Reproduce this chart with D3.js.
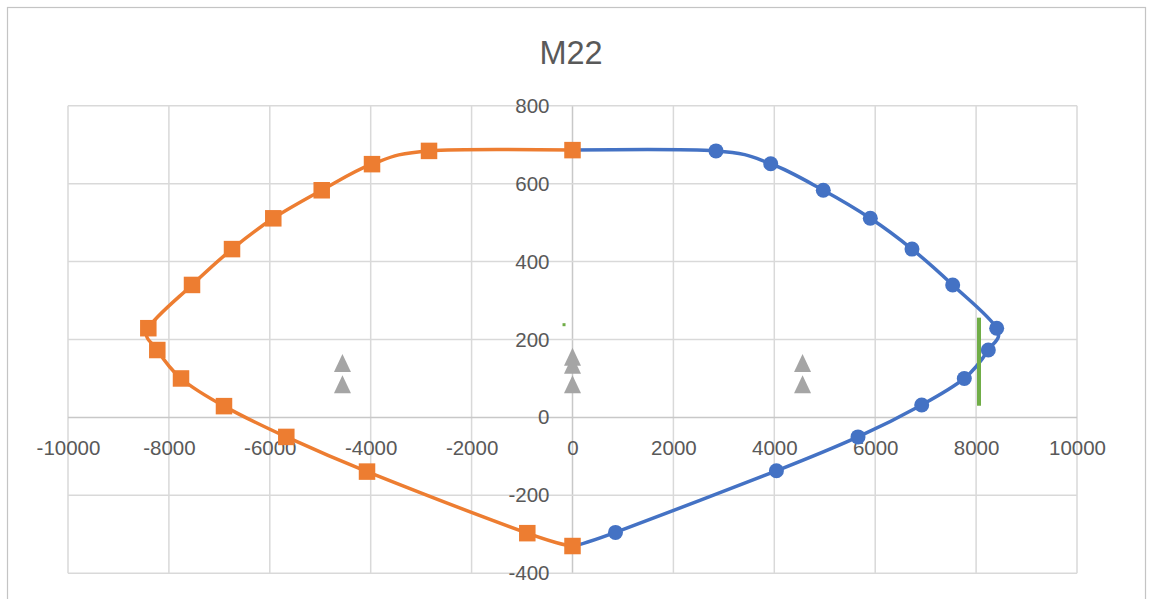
<!DOCTYPE html>
<html>
<head>
<meta charset="utf-8">
<script src="https://cdn.jsdelivr.net/npm/d3@7"></script>
<style>
  html, body { margin: 0; padding: 0; background: #fff; }
  svg { display: block; }
  .tick text { font-family: "Liberation Sans", Arial, sans-serif; fill: #595959; }
</style>
</head>
<body>
<svg id="chart" width="1152" height="599"></svg>
<script>
// Interaction diagram M22: axial load (x) vs moment (y)
const titleText = "M22";

// Positive side of the envelope (circles)
const posX = [0, 2844, 3929, 4971, 5903, 6729, 7536, 8408, 8242, 7766, 6922, 5659, 4042, 852, 0];
const posY = [686, 684, 651, 583, 511, 432, 340, 229, 173, 100, 32, -50, -137, -295, -330];

// Negative side of the envelope (squares)
const negX = [0, -2844, -3974, -4971, -5931, -6749, -7542, -8408, -8230, -7760, -6908, -5673, -4073, -896, 0];
const negY = [686, 684, 650, 583, 511, 432, 340, 229, 173, 100, 29, -50, -139, -297, -330];

// Demand points (triangles)
const demandX = [-4560, -4560, 0, 0, 0, 4560, 4560];
const demandY = [140, 85, 156, 135, 85, 140, 85];

// Vertical limit line
const limitX = [8058, 8058];
const limitY = [256, 30];

// Single reference point
const refX = [-168];
const refY = [238];

const xTicks = [-10000, -8000, -6000, -4000, -2000, 0, 2000, 4000, 6000, 8000, 10000];
const yTicks = [-400, -200, 0, 200, 400, 600, 800];

const svg = d3.select("#chart");
const W = 1152, H = 599;
const plot = { left: 68, right: 1077, top: 105.7, bottom: 573.3 };

const x = d3.scaleLinear().domain([-10000, 10000]).range([plot.left, plot.right]);
const y = d3.scaleLinear().domain([-400, 800]).range([plot.bottom, plot.top]);

// chart frame
svg.append("rect").attr("x", 0).attr("y", 0).attr("width", W).attr("height", H).attr("fill", "#fff");
svg.append("rect").attr("x", 7.5).attr("y", 7.5).attr("width", 1138).attr("height", 640)
  .attr("fill", "none").attr("stroke", "#c4c4c4").attr("stroke-width", 1.2);

// title
svg.append("text").attr("x", 571).attr("y", 63.5).attr("text-anchor", "middle")
  .attr("font-family", "'Liberation Sans', Arial, sans-serif").attr("font-size", 32.5)
  .attr("fill", "#595959").text(titleText);

// gridlines
const grid = svg.append("g");
grid.selectAll("line.v").data(xTicks).join("line")
  .attr("x1", d => x(d)).attr("x2", d => x(d)).attr("y1", plot.top).attr("y2", plot.bottom)
  .attr("stroke", d => d === 0 ? "#c8c8c8" : "#d9d9d9").attr("stroke-width", 1.5);
grid.selectAll("line.h").data(yTicks).join("line")
  .attr("x1", plot.left).attr("x2", plot.right).attr("y1", d => y(d)).attr("y2", d => y(d))
  .attr("stroke", d => d === 0 ? "#c8c8c8" : "#d9d9d9").attr("stroke-width", 1.5);

// axes crossing at the origin, labels only
const xAxis = svg.append("g").attr("transform", `translate(0,${y(0)})`)
  .call(d3.axisBottom(x).tickValues(xTicks).tickSize(0).tickPadding(23).tickFormat(d3.format("d")));
const yAxis = svg.append("g").attr("transform", `translate(${x(0)},0)`)
  .call(d3.axisLeft(y).tickValues(yTicks).tickSize(0).tickPadding(23).tickFormat(d3.format("d")));
[xAxis, yAxis].forEach(g => {
  g.select(".domain").remove();
  g.selectAll(".tick text").attr("font-size", 20.5).attr("font-family", "'Liberation Sans', Arial, sans-serif")
    .attr("fill", "#595959").text(function (d) { return String(d).replace("−", "-"); });
});

const curve = d3.curveCardinal.tension(0);
const lineGen = d3.line().x(d => x(d[0])).y(d => y(d[1])).curve(curve);

const posPts = posX.map((v, i) => [v, posY[i]]);
const negPts = negX.map((v, i) => [v, negY[i]]);

// positive envelope
svg.append("path").attr("d", lineGen(posPts)).attr("fill", "none")
  .attr("stroke", "#4472C4").attr("stroke-width", 3.5).attr("stroke-linejoin", "round");
svg.append("g").selectAll("circle").data(posPts).join("circle")
  .attr("cx", d => x(d[0])).attr("cy", d => y(d[1])).attr("r", 7.5).attr("fill", "#4472C4");

// negative envelope
svg.append("path").attr("d", lineGen(negPts)).attr("fill", "none")
  .attr("stroke", "#ED7D31").attr("stroke-width", 3.5).attr("stroke-linejoin", "round");
const sq = 16.5;
svg.append("g").selectAll("rect").data(negPts).join("rect")
  .attr("x", d => x(d[0]) - sq / 2).attr("y", d => y(d[1]) - sq / 2)
  .attr("width", sq).attr("height", sq).attr("fill", "#ED7D31");

// demand points, triangle markers 17 wide by 18 tall
const triW = 17, triH = 18;
svg.append("g").selectAll("path").data(demandX.map((v, i) => [v, demandY[i]])).join("path")
  .attr("d", `M0,${-triH / 2}L${triW / 2},${triH / 2}L${-triW / 2},${triH / 2}Z`)
  .attr("transform", d => `translate(${x(d[0])},${y(d[1])})`)
  .attr("fill", "#A5A5A5");

// limit line
svg.append("path").attr("d", d3.line().x(d => x(d[0])).y(d => y(d[1]))(limitX.map((v, i) => [v, limitY[i]])))
  .attr("stroke", "#70AD47").attr("stroke-width", 4).attr("fill", "none");

// reference point
svg.append("g").selectAll("rect").data(refX.map((v, i) => [v, refY[i]])).join("rect")
  .attr("x", d => x(d[0]) - 1.5).attr("y", d => y(d[1]) - 1.5).attr("width", 3).attr("height", 3)
  .attr("fill", "#70AD47");
</script>
</body>
</html>
